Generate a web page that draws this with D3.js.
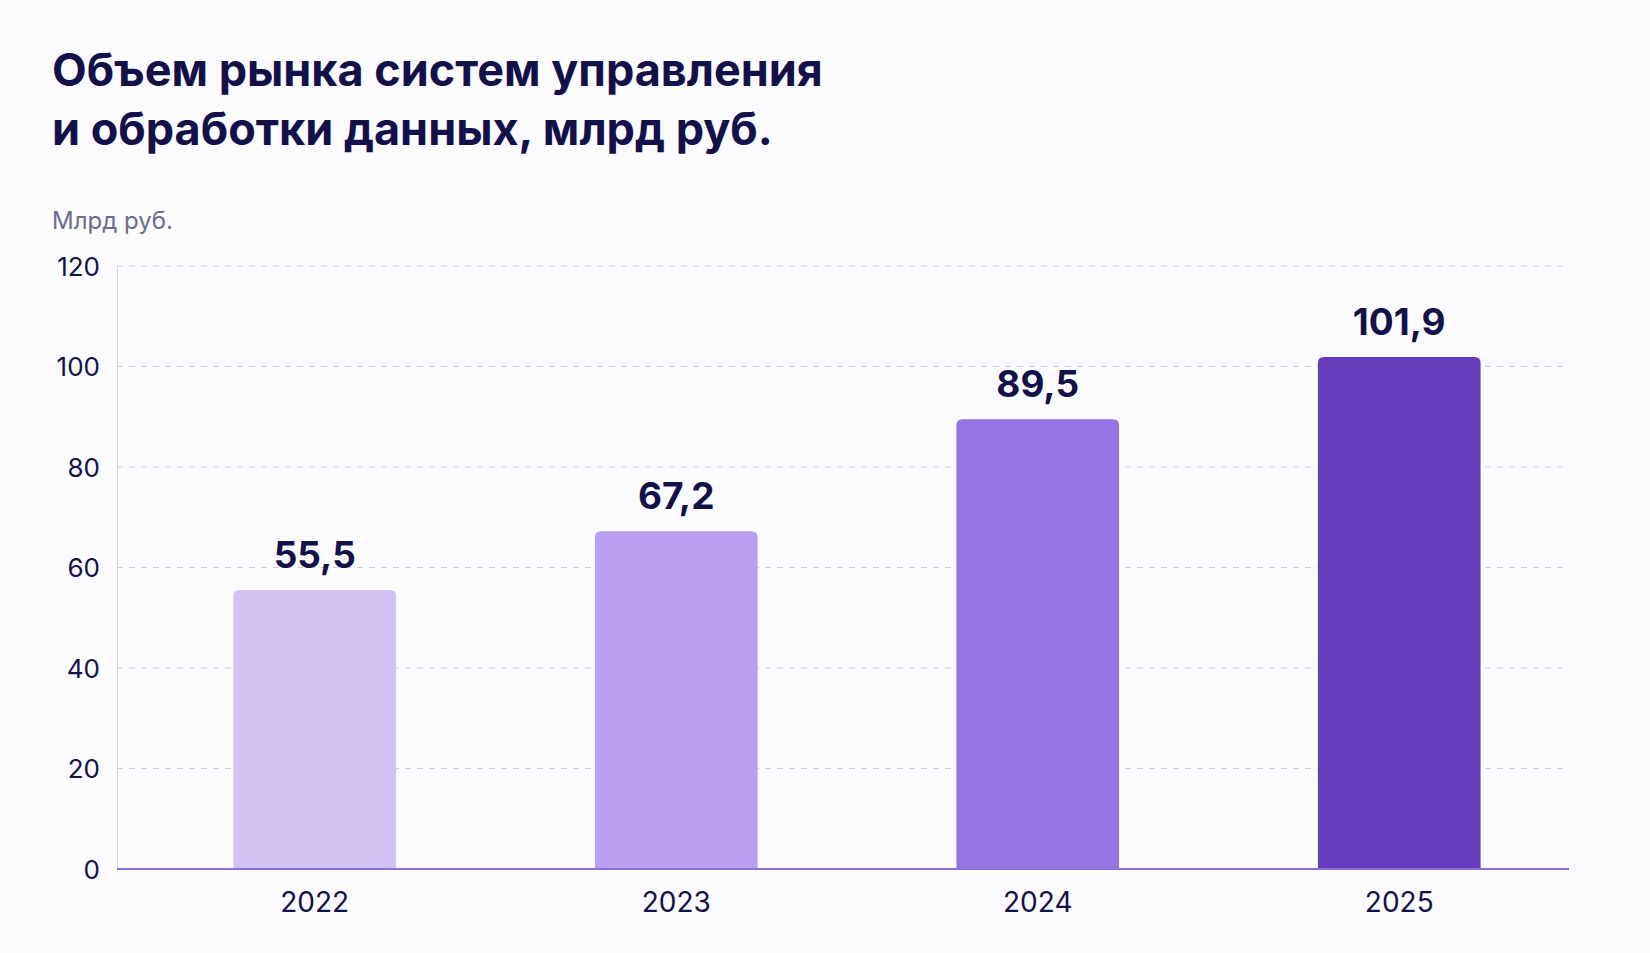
<!DOCTYPE html>
<html>
<head>
<meta charset="UTF-8">
<script src="https://cdn.jsdelivr.net/npm/d3@7"></script>
<style>
body{margin:0;background:#fbfbfe;}
text{font-family:Inter,"Noto Sans",sans-serif;}
</style>
</head>
<body>
<script>
var years=["2022","2023","2024","2025"];
var values=[55.5,67.2,89.5,101.9];
var labels=["55,5","67,2","89,5","101,9"];
var colors=["#d3c3f5","#b99fef","#9574e3","#643dbd"];
var ticks=[0,20,40,60,80,100,120];

var width=1650,height=953;
var svg=d3.select("body").append("svg").attr("width",width).attr("height",height);

var x=d3.scaleBand().domain(years).range([134,1580]).paddingInner(0.55).paddingOuter(0.275);
var y=d3.scaleLinear().domain([0,120]).range([869,266]);

// заголовок
svg.append("text").attr("x",52).attr("y",86).attr("font-size",45).attr("font-weight",700).attr("fill","#14114a").text("Объем рынка систем управления");
svg.append("text").attr("x",52).attr("y",145).attr("font-size",45).attr("font-weight",700).attr("fill","#14114a").text("и обработки данных, млрд руб.");
svg.append("text").attr("x",52).attr("y",229).attr("font-size",24).attr("fill","#6e6a8c").text("Млрд руб.");

// сетка
svg.append("g").selectAll("line").data(ticks.slice(1)).enter().append("line")
  .attr("x1",117).attr("x2",1569).attr("y1",d=>y(d)).attr("y2",d=>y(d))
  .attr("stroke","#cfcde0").attr("stroke-dasharray","6,6");
svg.append("line").attr("x1",117.5).attr("x2",117.5).attr("y1",266).attr("y2",869).attr("stroke","#d6d4e2");

var ax=svg.append("g").attr("transform","translate(100,0)")
  .call(d3.axisLeft(y).tickValues(ticks).tickSize(0).tickPadding(0));
ax.select(".domain").remove();
ax.selectAll("text").attr("font-size",26).attr("fill","#14114a").attr("dy","0.35em");

// столбцы
var r=6;
svg.append("g").selectAll("path").data(values).enter().append("path")
  .attr("fill",(d,i)=>colors[i])
  .attr("d",function(d,i){
    var x0=x(years[i]),w=x.bandwidth(),t=y(d),b=y(0);
    return "M"+x0+","+b+"V"+(t+r)+"Q"+x0+","+t+" "+(x0+r)+","+t+"H"+(x0+w-r)+"Q"+(x0+w)+","+t+" "+(x0+w)+","+(t+r)+"V"+b+"Z";
  });

svg.append("line").attr("x1",117).attr("x2",1569).attr("y1",869).attr("y2",869).attr("stroke","#8d6fe0").attr("stroke-width",2);

svg.append("g").selectAll("text").data(values).enter().append("text")
  .attr("x",(d,i)=>x(years[i])+x.bandwidth()/2).attr("y",d=>y(d)-22)
  .attr("text-anchor","middle").attr("font-size",37).attr("font-weight",700).attr("fill","#14114a")
  .text((d,i)=>labels[i]);

svg.append("g").selectAll("text").data(years).enter().append("text")
  .attr("x",d=>x(d)+x.bandwidth()/2).attr("y",912)
  .attr("text-anchor","middle").attr("font-size",28).attr("fill","#14114a").text(d=>d);
</script>
</body>
</html>
